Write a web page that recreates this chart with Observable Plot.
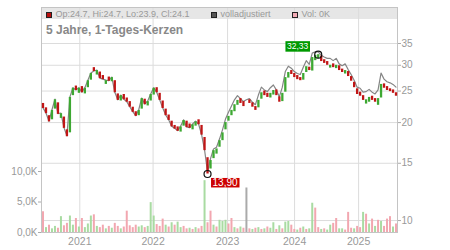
<!DOCTYPE html>
<html><head><meta charset="utf-8">
<script src="https://cdn.jsdelivr.net/npm/d3@7"></script>
<script src="https://cdn.jsdelivr.net/npm/@observablehq/plot@0.6"></script>
<style>
html,body{margin:0;padding:0;background:#fff;}
#chart{position:relative;width:450px;height:250px;font-family:"Liberation Sans",Arial,sans-serif;overflow:hidden;background:#fff;}
#chart svg{position:absolute;left:0;top:0;}
.band{position:absolute;left:41px;top:7px;width:356px;height:12px;background:#e6e6e6;}
.leg{position:absolute;top:10px;font-size:9px;line-height:9px;color:#999;white-space:nowrap;}
.sq{position:absolute;top:12px;width:4px;height:4px;border:1px solid #222;}
.title{position:absolute;left:46px;top:24px;font-size:12px;line-height:12px;font-weight:bold;color:#888;white-space:nowrap;}
</style></head><body>
<div id="chart"><div class="band"></div></div>
<script>
// ---- data ----
const openP = [22.9,22.2,21.0,20.4,22.0,23.0,20.6,20.8,19.0,18.6,
 24.2,25.9,24.6,25.8,24.5,25.6,27.0,29.5,28.0,28.6,
 27.9,26.2,27.6,26.7,26.9,24.5,23.3,24.4,23.8,23.2,
 22.3,21.6,21.0,22.0,23.6,22.5,23.3,24.3,25.6,24.6,
 23.3,22.0,21.1,20.2,19.6,19.4,18.7,19.5,20.2,19.8,
 19.0,19.5,20.4,19.6,18.0,15.6,14.4,15.5,16.0,16.8,
 17.6,19.0,20.2,21.0,21.6,22.6,23.7,23.2,22.7,23.5,
 23.0,22.4,22.2,23.6,25.0,24.6,23.8,24.3,25.2,24.0,
 23.2,24.8,27.4,28.9,28.3,27.9,27.5,27.0,28.5,29.6,
 28.8,31.0,31.4,32.0,31.2,30.8,29.4,30.3,29.3,29.9,
 29.2,28.2,28.7,27.7,26.6,25.4,24.8,24.2,22.8,23.1,
 24.1,23.7,22.6,23.8,26.3,25.8,25.4,25.2,24.7];
const closeP = [22.1,21.3,20.1,21.8,23.5,21.2,21.3,19.2,18.1,23.9,
 25.5,25.1,25.5,24.7,25.5,26.9,28.3,28.7,28.9,27.3,
 27.1,26.9,26.8,27.5,24.7,23.4,24.2,23.5,23.1,22.3,
 21.5,20.9,21.8,23.7,22.7,23.2,24.4,25.5,24.7,23.4,
 22.1,21.0,20.3,19.4,19.1,18.8,19.4,20.3,19.3,19.2,
 19.7,20.1,19.7,18.3,16.4,13.9,15.3,16.4,16.6,17.6,
 18.6,20.0,20.9,21.8,22.7,23.4,22.9,22.4,22.7,22.9,
 22.3,21.8,23.4,24.7,24.2,23.9,24.6,25.1,24.2,23.1,
 24.6,27.5,28.5,28.1,27.5,27.1,26.9,28.3,29.7,28.9,
 31.7,32.2,32.33,30.8,30.4,30.0,30.0,29.5,30.0,28.9,
 28.5,28.9,27.7,26.8,25.6,24.4,24.1,23.4,23.5,23.9,
 23.4,23.1,23.7,26.2,25.5,25.1,24.9,24.6,24.1];
const adjClose = [22.2,21.4,20.2,21.9,23.6,21.3,21.4,19.3,18.2,24.0,
 25.6,25.2,25.6,24.8,25.6,27.0,28.4,28.8,29.0,27.4,
 27.2,27.0,26.9,27.6,24.8,23.5,24.3,23.6,23.2,22.4,
 21.6,21.0,21.9,23.8,22.8,23.3,24.5,25.6,24.8,23.5,
 22.2,21.1,20.4,19.5,19.2,18.9,19.5,20.4,19.4,19.3,
 19.8,20.2,19.8,18.4,16.5,14.1,15.5,16.6,16.8,17.8,
 19.0,20.5,21.5,22.5,23.5,24.2,23.7,23.2,23.5,23.7,
 23.1,22.7,24.3,25.7,25.2,24.9,25.6,26.1,25.2,24.0,
 25.7,28.7,29.8,29.4,28.7,28.3,28.1,29.6,31.0,30.2,
 32.7,33.0,33.0,32.2,31.8,31.5,31.5,31.0,31.5,30.3,
 29.9,30.3,29.1,28.1,27.0,25.7,25.5,24.8,24.9,25.3,
 24.8,24.5,25.2,28.4,27.2,26.7,26.5,26.2,25.7];
const volumeK = [3.4,0.8,1.2,0.6,1.0,0.7,2.6,1.1,1.5,2.7,
 1.2,2.3,0.9,2.3,0.8,1.4,2.7,2.9,1.0,0.8,
 1.2,0.6,1.0,0.7,1.5,1.0,0.6,0.9,3.5,1.1,
 0.8,1.2,0.9,1.1,0.8,1.0,4.9,2.7,1.3,1.0,
 2.2,1.2,0.9,1.6,1.2,1.7,0.8,1.0,0.6,0.7,
 0.5,0.8,0.6,1.0,8.5,1.6,3.5,1.2,0.9,2.0,
 1.8,2.0,1.4,2.3,0.8,0.6,0.9,0.7,7.3,0.6,
 0.5,0.7,0.8,0.5,0.6,0.9,0.7,1.6,0.5,1.1,
 0.6,1.7,1.8,1.2,0.5,0.4,0.7,0.9,0.5,0.6,
 4.8,4.0,0.8,0.5,0.6,0.4,1.2,1.5,2.3,0.6,
 0.6,0.4,3.3,0.7,0.6,1.0,0.8,3.3,3.0,1.4,
 2.2,1.0,2.0,1.8,1.0,2.2,2.6,0.9,1.4];
const volumeDir = ["d","u","d","u","u","d","u","d","d","u",
 "u","d","u","d","u","u","u","d","u","d",
 "d","u","d","u","d","d","u","d","d","d",
 "d","d","u","u","d","u","u","u","d","d",
 "d","u","d","u","d","u","u","d","d","u",
 "d","u","d","d","u","d","d","u","d","u",
 "u","u","d","d","u","d","u","d","n","d",
 "u","d","u","d","u","d","u","u","d","u",
 "d","u","u","d","d","u","d","u","d","u",
 "u","d","d","u","d","u","u","d","d","u",
 "u","d","d","d","u","d","d","u","d","u",
 "d","u","d","u","d","d","d","u","d"];
const priceTicks = [10, 15, 20, 25, 30, 35];
const volTicks = [0, 5, 10];
const yearLabels = ["2021", "2022", "2023", "2024", "2025"];
const yearTickIdx = [12.3, 36.8, 61.7, 84.1, 105.5];
const extremeLabels = ["13,90", "32,33"];
const legendItems = ["Op:24.7, Hi:24.7, Lo:23.9, Cl:24.1", "volladjustiert", "Vol: 0K"];
const titleText = "5 Jahre, 1-Tages-Kerzen";

// ---- chart ----
const N = closeP.length;
const idx = d3.range(N);
const W = 450, H = 250;
const M = {left: 41, right: 53, top: 7, bottom: 18};
const font = '"Liberation Sans", Arial, sans-serif';
const upC = "#3da832", downC = "#c01515";
const loI = d3.minIndex(closeP), hiI = d3.maxIndex(closeP);

const price = Plot.plot({
  width: W, height: H,
  marginLeft: M.left, marginRight: M.right, marginTop: M.top, marginBottom: M.bottom,
  style: {background: "transparent", fontFamily: font, color: "#999", overflow: "visible"},
  x: {type: "linear", domain: [-0.5, N - 0.5]},
  y: {type: "log", domain: [9.19, 45.15]},
  marks: [
    Plot.gridX(yearTickIdx, {stroke: "#dcdcdc", strokeOpacity: 1}),
    Plot.gridY(priceTicks, {stroke: "#dcdcdc", strokeOpacity: 1}),
    Plot.frame({stroke: "#c4c4c4"}),
    Plot.axisY(priceTicks, {anchor: "right", tickSize: 3, tickPadding: 1, fontSize: 10, tickFormat: d => String(d), label: null, stroke: "#aaa"}),
    Plot.axisX(yearTickIdx, {anchor: "bottom", tickSize: 0, tickPadding: 5, fontSize: 10.5, tickFormat: d => yearLabels[yearTickIdx.indexOf(d)], label: null}),
    Plot.line(idx, {x: i => i, y: i => adjClose[i], stroke: "#858585", strokeWidth: 1.2}),
    Plot.ruleX(idx, {x: i => i, y1: i => openP[i], y2: i => closeP[i], stroke: i => closeP[i] >= openP[i] ? upC : downC, strokeWidth: 2.3}),
    Plot.dot([loI, hiI], {x: i => i, y: i => closeP[i], r: 3.5, stroke: "#111", strokeWidth: 1.2, fill: "none"}),
    Plot.text([loI], {x: i => i, y: i => closeP[i], text: () => extremeLabels[0], textAnchor: "start", dx: 5, dy: 9, fill: "white", fontSize: 10}),
    Plot.text([hiI], {x: i => i, y: i => closeP[i], text: () => extremeLabels[1], textAnchor: "end", dx: -10, dy: -8, fill: "white", fontSize: 8.5})
  ]
});

const volColor = {u: "#a9dba2", d: "#f2a7b0", n: "#aaaaaa"};
const volume = Plot.plot({
  width: W, height: H,
  marginLeft: M.left, marginRight: M.right, marginTop: M.top, marginBottom: M.bottom,
  style: {background: "transparent", fontFamily: font, color: "#999"},
  x: {type: "linear", domain: [-0.5, N - 0.5], axis: null},
  y: {type: "linear", domain: [0, 36.9], axis: null},
  marks: [
    Plot.ruleX(idx, {x: i => i, y1: 0, y2: i => volumeK[i], stroke: i => volColor[volumeDir[i]], strokeWidth: 2}),
    Plot.axisY(volTicks, {anchor: "left", tickSize: 3, tickPadding: 1, fontSize: 10, tickFormat: d => d.toFixed(1).replace(".", ",") + "K", label: null, stroke: "#aaa"})
  ]
});

const chart = document.getElementById("chart");
chart.appendChild(price);
chart.appendChild(volume);

// label boxes behind the extreme value texts
const boxFill = ["#cc0000", "#009900"];
const boxH = [9.5, 10.5];
price.querySelectorAll('g[aria-label="text"]').forEach((g, k) => {
  g.querySelectorAll("text").forEach(t => {
    const bb = t.getBBox();
    const r = document.createElementNS("http://www.w3.org/2000/svg", "rect");
    r.setAttribute("x", bb.x - 1.5);
    r.setAttribute("width", bb.width + 3);
    r.setAttribute("y", bb.y + bb.height / 2 - boxH[k] / 2);
    r.setAttribute("height", boxH[k]);
    r.setAttribute("fill", boxFill[k]);
    const tr = t.getAttribute("transform");
    if (tr) r.setAttribute("transform", tr);
    g.insertBefore(r, t);
  });
});

// legend + title (HTML text)
const legSq = [{x: 46, c: "#b80d0d"}, {x: 211, c: "#555"}, {x: 292, c: "#f2aab4"}];
const legX = [55.5, 220.5, 301.5];
legendItems.forEach((txt, k) => {
  const s = document.createElement("div");
  s.className = "sq"; s.style.left = legSq[k].x + "px"; s.style.background = legSq[k].c;
  chart.appendChild(s);
  const l = document.createElement("div");
  l.className = "leg"; l.style.left = legX[k] + "px"; l.textContent = txt;
  chart.appendChild(l);
});
const t = document.createElement("div");
t.className = "title"; t.textContent = titleText;
chart.appendChild(t);
</script>
</body></html>
